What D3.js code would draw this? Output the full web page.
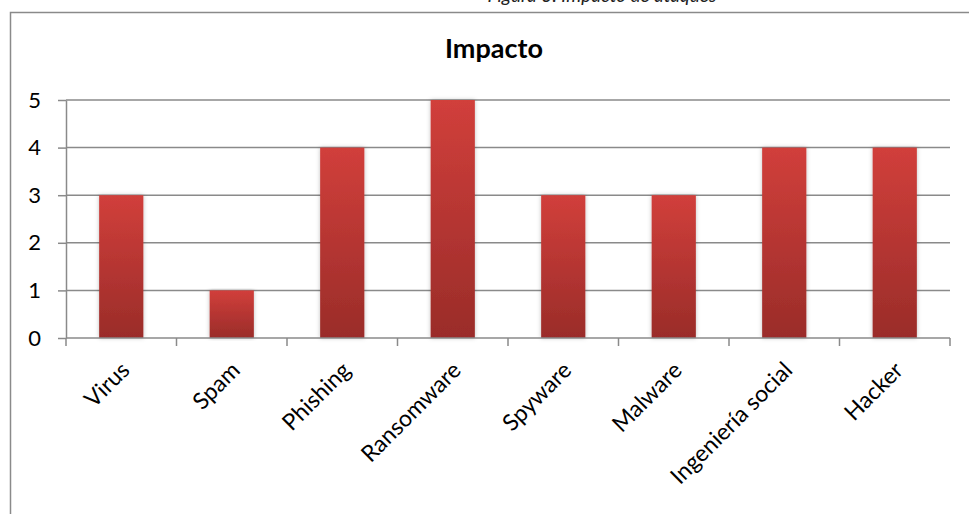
<!DOCTYPE html>
<html>
<head>
<meta charset="utf-8">
<script src="https://cdn.jsdelivr.net/npm/d3@7"></script>
<style>
  html, body { margin: 0; padding: 0; background: #fff; }
  svg { display: block; font-family: Lato, "Open Sans", sans-serif; }
</style>
</head>
<body>
<svg id="chart" width="969" height="514"></svg>
<script>
// Impact score per attack type
const categories = ["Virus", "Spam", "Phishing", "Ransomware", "Spyware", "Malware", "Ingeniería social", "Hacker"];
const impacto = [3, 1, 4, 5, 3, 3, 4, 4];
const yTicks = [0, 1, 2, 3, 4, 5];
const chartTitle = "Impacto";
const caption = "Figura 3: Impacto de ataques";

const svg = d3.select("#chart");
const plot = { left: 66, right: 950, top: 100, bottom: 338 };

// figure caption, running off the top edge
svg.append("text")
  .attr("x", 602).attr("y", 2)
  .attr("text-anchor", "middle")
  .attr("font-size", 19).attr("font-style", "italic")
  .attr("fill", "#222")
  .text(caption);

// chart frame
svg.append("path")
  .attr("d", "M10.5,520 V12.5 H980")
  .attr("fill", "none").attr("stroke", "#8a8a8a").attr("stroke-width", 1.5);

svg.append("text")
  .attr("x", 494).attr("y", 58)
  .attr("text-anchor", "middle")
  .attr("font-size", 27).attr("font-weight", "bold")
  .attr("fill", "#000")
  .text(chartTitle);

const x = d3.scaleBand().domain(categories).range([plot.left, plot.right]).paddingInner(0.6).paddingOuter(0.3);
const y = d3.scaleLinear().domain([0, 5]).range([plot.bottom, plot.top]);

const defs = svg.append("defs");
const grad = defs.append("linearGradient").attr("id", "barGrad")
  .attr("x1", 0).attr("y1", 0).attr("x2", 0).attr("y2", 1);
grad.append("stop").attr("offset", "0%").attr("stop-color", "#d13f3b");
grad.append("stop").attr("offset", "100%").attr("stop-color", "#9a2c29");

const shadow = defs.append("filter").attr("id", "barShadow")
  .attr("x", "-20%").attr("y", "-5%").attr("width", "140%").attr("height", "110%");
shadow.append("feDropShadow").attr("dx", 0).attr("dy", 0).attr("stdDeviation", 2)
  .attr("flood-color", "#000").attr("flood-opacity", 0.25);

// horizontal gridlines
svg.append("g")
  .selectAll("line").data(yTicks.filter(d => d > 0)).join("line")
  .attr("x1", plot.left).attr("x2", plot.right)
  .attr("y1", d => y(d)).attr("y2", d => y(d))
  .attr("stroke", "#8a8a8a").attr("stroke-width", 1.5);

// y axis
const yAxis = svg.append("g")
  .attr("transform", `translate(${plot.left},0)`)
  .call(d3.axisLeft(y).tickValues(yTicks).tickFormat(d3.format("d"))
    .tickSize(8).tickSizeOuter(0).tickPadding(17));
yAxis.select(".domain").attr("stroke", "#8a8a8a").attr("stroke-width", 1.5);
yAxis.selectAll(".tick line").attr("stroke", "#8a8a8a").attr("stroke-width", 1.5);
yAxis.selectAll(".tick text").attr("font-size", 22).attr("fill", "#000")
  .attr("font-family", "Lato, sans-serif");

// bars
svg.append("g")
  .selectAll("rect").data(categories).join("rect")
  .attr("x", d => x(d))
  .attr("y", (d, i) => y(impacto[i]))
  .attr("width", x.bandwidth())
  .attr("height", (d, i) => y(0) - y(impacto[i]))
  .attr("fill", "url(#barGrad)")
  .attr("filter", "url(#barShadow)");

// x axis with boundary ticks between categories
const step = x.step();
const bounds = d3.range(categories.length + 1).map(i => plot.left + i * step);
const xAxis = svg.append("g");
xAxis.append("line")
  .attr("x1", plot.left).attr("x2", plot.right)
  .attr("y1", plot.bottom).attr("y2", plot.bottom)
  .attr("stroke", "#8a8a8a").attr("stroke-width", 1.5);
xAxis.selectAll("line.tk").data(bounds).join("line").attr("class", "tk")
  .attr("x1", d => d).attr("x2", d => d)
  .attr("y1", plot.bottom).attr("y2", plot.bottom + 8)
  .attr("stroke", "#8a8a8a").attr("stroke-width", 1.5);

xAxis.selectAll("text").data(categories).join("text")
  .attr("transform", d => `translate(${x(d) + x.bandwidth() / 2 + 4},${plot.bottom + 28}) rotate(-45)`)
  .attr("text-anchor", "end")
  .attr("dy", "0.35em")
  .attr("font-size", 23).attr("fill", "#000")
  .text(d => d);
</script>
</body>
</html>
